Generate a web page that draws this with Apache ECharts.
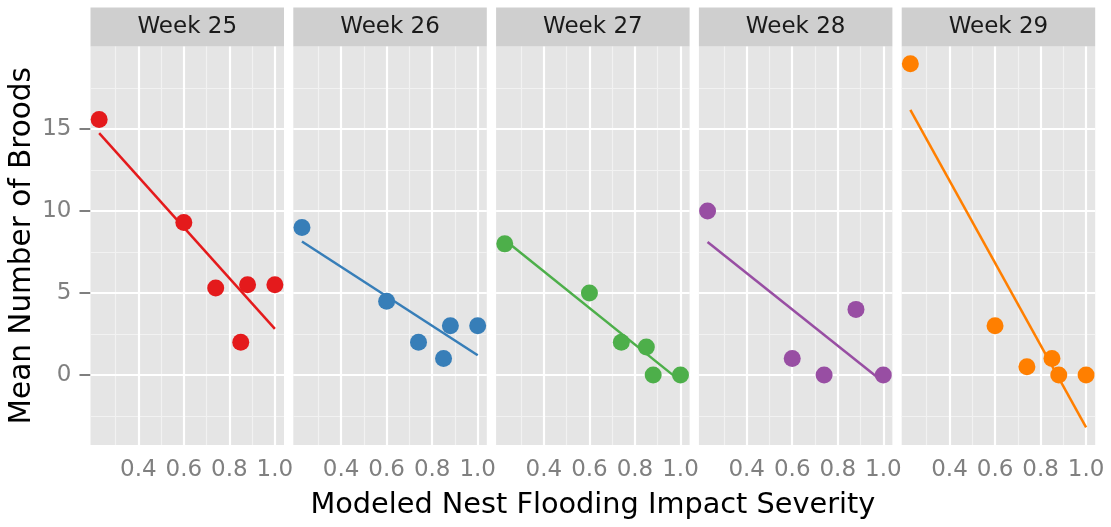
<!DOCTYPE html>
<html><head><meta charset="utf-8">
<script src="https://cdn.jsdelivr.net/npm/echarts@6/dist/echarts.min.js"></script>
<style>html,body{margin:0;padding:0;background:#fff}#c{width:1111px;height:527px}</style>
</head><body><div id="c"></div>
<script>
// ---- data ----
const weeks = ['Week 25', 'Week 26', 'Week 27', 'Week 28', 'Week 29'];
const severity = [0.228, 0.6, 0.74, 0.85, 0.88, 1.0];
const broods25 = [15.6, 9.3, 5.3, 2.0, 5.5, 5.5];
const broods26 = [9.0, 4.5, 2.0, 1.0, 3.0, 3.0];
const broods27 = [8.0, 5.0, 2.0, 1.7, 0.0, 0.0];
const broods28 = [10.0, 1.0, 0.0, null, 4.0, 0.0];
const broods29 = [19.0, 3.0, 0.5, 1.0, 0.0, 0.0];
const colors = ['#E41A1C', '#377EB8', '#4DAF4A', '#984EA3', '#FF7F00'];
const xTicks = [0.4, 0.6, 0.8, 1.0];
const xMinor = [0.3, 0.5, 0.7, 0.9];
const yTicks = [0, 5, 10, 15];
const yMinor = [-2.5, 2.5, 7.5, 12.5, 17.5];
const xTitle = 'Modeled Nest Flooding Impact Severity';
const yTitle = 'Mean Number of Broods';

const broods = [broods25, broods26, broods27, broods28, broods29];

// ---- layout ----
const FONT = 'DejaVu Sans';
const L0 = 90.5, STEP = 202.8, PW = 193.5, PT = 46.5, PH = 398.5;
const X_MIN = 0.19, X_MAX = 1.04, Y_MIN = -4.28, Y_MAX = 20.05;

function fit(xs, ys) {
  const n = xs.length;
  const mx = xs.reduce((a, b) => a + b, 0) / n;
  const my = ys.reduce((a, b) => a + b, 0) / n;
  let sxx = 0, sxy = 0;
  for (let i = 0; i < n; i++) { sxx += (xs[i] - mx) ** 2; sxy += (xs[i] - mx) * (ys[i] - my); }
  const b = sxy / sxx, a = my - b * mx;
  const x0 = Math.min(...xs), x1 = Math.max(...xs);
  return [[x0, a + b * x0], [x1, a + b * x1]];
}

const grid = [], xAxis = [], yAxis = [], series = [], graphic = [];
weeks.forEach((w, i) => {
  const left = L0 + STEP * i;
  grid.push({ left: left, top: PT, width: PW, height: PH, show: true, backgroundColor: '#E5E5E5', borderWidth: 0 });
  xAxis.push({
    type: 'value', gridIndex: i, min: X_MIN, max: X_MAX,
    axisLine: { show: false },
    axisTick: { show: true, customValues: xTicks, length: 11, lineStyle: { color: '#7F7F7F', width: 2 } },
    axisLabel: { show: true, customValues: xTicks, margin: 14, color: '#808080', fontSize: 23, fontFamily: FONT, formatter: v => v.toFixed(1) },
    splitLine: { show: false },
    name: i === 2 ? xTitle : '', nameLocation: 'middle', nameGap: 46,
    nameTextStyle: { fontSize: 28.75, color: '#000', fontFamily: FONT }
  });
  yAxis.push({
    type: 'value', gridIndex: i, min: Y_MIN, max: Y_MAX,
    axisLine: { show: false },
    axisTick: { show: i === 0, customValues: yTicks, length: 11, lineStyle: { color: '#7F7F7F', width: 2 } },
    axisLabel: { show: i === 0, customValues: yTicks, margin: 19, color: '#808080', fontSize: 23, fontFamily: FONT },
    splitLine: { show: false },
    name: i === 0 ? yTitle : '', nameLocation: 'middle', nameGap: 53,
    nameTextStyle: { fontSize: 29.5, color: '#000', fontFamily: FONT }
  });
  const gl = [];
  yMinor.forEach(v => gl.push({ yAxis: v, lineStyle: { color: '#F2F2F2', width: 1.2, type: 'solid' } }));
  xMinor.forEach(v => gl.push({ xAxis: v, lineStyle: { color: '#F2F2F2', width: 1.2, type: 'solid' } }));
  yTicks.forEach(v => gl.push({ yAxis: v, lineStyle: { color: '#FFFFFF', width: 2.2, type: 'solid' } }));
  xTicks.forEach(v => gl.push({ xAxis: v, lineStyle: { color: '#FFFFFF', width: 2.2, type: 'solid' } }));
  series.push({
    type: 'scatter', xAxisIndex: i, yAxisIndex: i, data: [], silent: true, z: 1,
    markLine: { silent: true, z: 1, symbol: ['none', 'none'], label: { show: false }, animation: false, emphasis: { disabled: true }, data: gl }
  });
  const xs = [], ys = [], pts = [];
  severity.forEach((x, k) => { const y = broods[i][k]; if (y !== null) { xs.push(x); ys.push(y); pts.push([x, y]); } });
  series.push({
    type: 'line', xAxisIndex: i, yAxisIndex: i, data: fit(xs, ys), showSymbol: false, symbol: 'none', z: 5,
    lineStyle: { color: colors[i], width: 2.5 }, silent: true
  });
  series.push({
    type: 'scatter', xAxisIndex: i, yAxisIndex: i, data: pts, symbolSize: 17, z: 6,
    itemStyle: { color: colors[i], opacity: 1 }, silent: true
  });
  graphic.push({ type: 'rect', shape: { x: left, y: 7.5, width: PW, height: 39 }, style: { fill: '#CFCFCF' }, silent: true });
  graphic.push({ type: 'text', x: left + PW / 2, y: 27.5, style: { text: w, align: 'center', verticalAlign: 'middle', fontSize: 23, fontFamily: FONT, fill: '#1A1A1A' }, silent: true });
});

const chart = echarts.init(document.getElementById('c'), null, { renderer: 'canvas' });
chart.setOption({ animation: false, backgroundColor: '#FFFFFF', grid, xAxis, yAxis, series, graphic });
</script>
</body></html>
